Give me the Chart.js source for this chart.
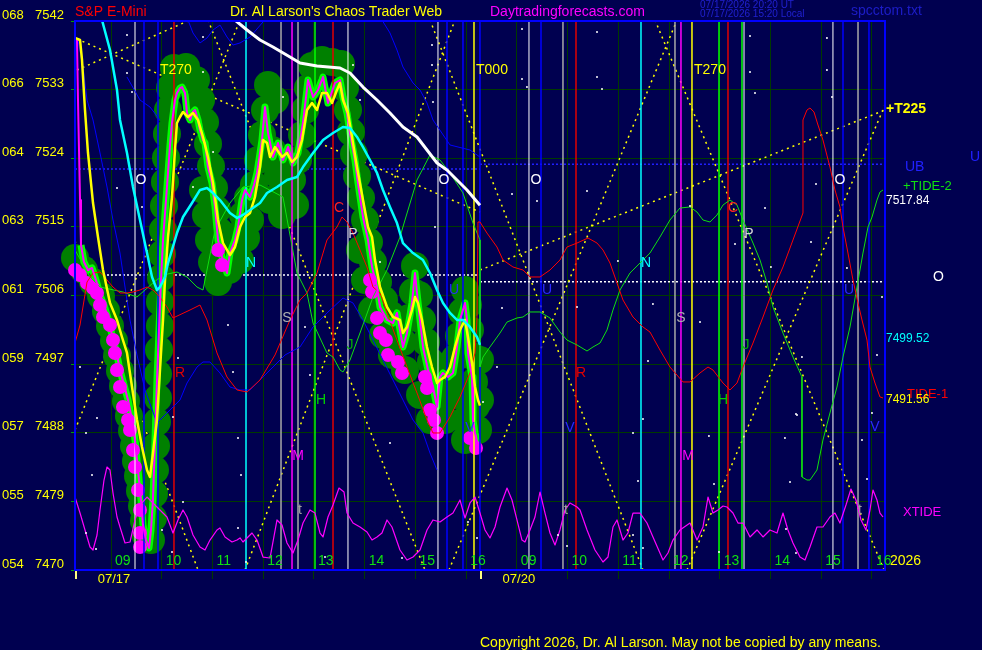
<!DOCTYPE html>
<html>
<head>
<meta charset="UTF-8">
<title>S&amp;P E-Mini - Chaos Trader Web</title>
<script src="https://cdn.jsdelivr.net/npm/chart.js"></script>
<style>
  body { margin: 0; background: #000050; }
  canvas { display: block; }
</style>
</head>
<body>
<canvas id="chart" width="982" height="650"></canvas>
<script>
// axis: time in hours (07/20 session shifted by +8h), price in points
const hourTicks = [9, 10, 11, 12, 13, 14, 15, 16, 17, 18, 19, 20, 21, 22, 23, 24];
const hourNames = ['09','10','11','12','13','14','15','16','09','10','11','12','13','14','15','16'];
const yTicks = [7470, 7479, 7488, 7497, 7506, 7515, 7524, 7533, 7542];
const yCodes = ['054','055','057','059','061','063','064','066','068'];
const dayNames = ['07/17', '07/20'];
const dayLabelTime = [9.06, 17.04];
const dayStartTime = [8.29, 16.273];

// price (magenta)
const priceTime = [8.329,8.349,8.369,8.389,8.408,8.467,8.546,8.625,8.704,8.783,
  8.862,8.941,9.019,9.098,9.177,9.256,9.335,9.414,9.473,9.532,
  9.591,9.630,9.690,9.749,9.788,9.827,9.867,9.906,9.946,9.985,
  10.025,10.084,10.123,10.163,10.202,10.261,10.300,10.360,10.399,10.458,
  10.498,10.557,10.616,10.655,10.715,10.754,10.813,10.853,10.912,10.991,
  11.050,11.109,11.188,11.286,11.345,11.444,11.503,11.582,11.641,11.740,
  11.818,11.878,11.976,12.035,12.095,12.193,12.292,12.390,12.489,12.587,
  12.686,12.784,12.883,12.982,13.080,13.179,13.277,13.415,13.514,13.573,
  13.652,13.711,13.809,13.869,13.967,14.066,14.145,14.243,14.302,14.440,
  14.558,14.637,14.696,14.755,14.834,14.933,14.992,15.032,15.091,15.150,
  15.249,15.347,15.426,15.485,15.544,15.643,15.741,15.820,15.879,15.978,
  16.017,16.037,16.116,16.135,16.175,16.234];
const priceValue = [7539.51,7531.64,7525.08,7518.52,7512.62,7510.39,7509.34,7509.61,7508.03,7506.07,
  7504.75,7503.05,7500.82,7498.85,7496.23,7494.26,7492.30,7489.67,7487.05,7483.11,
  7479.18,7475.90,7473.93,7472.89,7475.25,7479.18,7487.05,7494.92,7501.48,7508.03,
  7513.28,7518.52,7522.07,7525.74,7528.62,7531.64,7532.56,7533.21,7533.34,7532.56,
  7529.93,7529.02,7530.07,7530.33,7529.02,7527.70,7526.39,7526.00,7522.85,7520.75,
  7517.61,7513.28,7511.05,7508.95,7511.57,7513.28,7514.98,7518.52,7519.84,7518.92,
  7520.49,7522.07,7526.39,7530.72,7527.31,7524.16,7526.00,7523.77,7525.47,7523.38,
  7524.69,7528.62,7534.26,7532.03,7532.95,7534.65,7531.25,7533.87,7534.26,7532.03,
  7529.93,7527.31,7523.77,7520.75,7516.29,7513.28,7509.74,7507.11,7504.49,7502.79,
  7502.39,7503.71,7501.48,7499.25,7501.08,7505.02,7508.95,7506.33,7502.79,7499.25,
  7496.23,7494.00,7491.38,7495.31,7495.84,7495.31,7495.84,7499.25,7502.79,7505.02,
  7502.79,7498.46,7495.31,7489.67,7487.97,7486.39];

// fast average (yellow)
const fastTime = [8.290,8.389,8.428,8.487,8.546,8.645,8.743,8.842,8.980,9.118,
  9.216,9.315,9.414,9.512,9.611,9.709,9.768,9.827,9.906,9.965,
  10.025,10.064,10.123,10.202,10.261,10.300,10.360,10.419,10.517,10.616,
  10.715,10.813,10.912,11.011,11.109,11.207,11.345,11.444,11.543,11.641,
  11.740,11.838,11.937,11.996,12.075,12.134,12.233,12.371,12.469,12.568,
  12.666,12.765,12.863,12.962,13.061,13.159,13.257,13.356,13.454,13.514,
  13.573,13.671,13.750,13.849,13.967,14.066,14.145,14.204,14.302,14.440,
  14.558,14.696,14.755,14.834,14.933,14.992,15.051,15.130,15.229,15.327,
  15.426,15.485,15.584,15.682,15.781,15.879,15.978,16.037,16.116,16.175,
  16.234,16.273];
const fastValue = [7539.77,7539.51,7536.89,7530.33,7524.69,7518.13,7513.67,7509.34,7505.02,7502.79,
  7500.56,7498.46,7494.00,7489.67,7486.13,7483.11,7482.20,7485.34,7489.67,7496.23,
  7502.79,7508.03,7513.67,7518.92,7525.08,7528.62,7529.41,7530.07,7529.41,7529.93,
  7529.02,7526.79,7524.16,7520.75,7515.90,7512.88,7511.31,7512.36,7514.98,7516.29,
  7516.82,7518.92,7522.85,7526.39,7526.00,7524.16,7525.47,7524.16,7524.69,7523.51,
  7524.16,7526.39,7530.33,7531.25,7530.33,7532.56,7532.56,7531.25,7532.95,7533.87,
  7531.64,7529.93,7526.79,7522.85,7518.52,7514.98,7513.67,7510.65,7507.11,7504.49,
  7503.18,7502.79,7501.08,7501.87,7504.10,7505.80,7505.02,7502.79,7499.25,7496.62,
  7494.52,7494.92,7495.31,7496.62,7499.25,7501.48,7502.79,7500.56,7497.15,7494.00,
  7492.30,7491.56];

// medium average (cyan)
const midTime = [8.822,8.980,9.118,9.177,9.315,9.433,9.571,9.709,9.808,9.906,
  9.965,10.064,10.123,10.202,10.300,10.419,10.596,10.754,10.892,11.011,
  11.148,11.345,11.484,11.602,11.740,11.937,12.075,12.272,12.469,12.666,
  12.784,12.982,13.179,13.376,13.573,13.711,13.849,13.967,14.105,14.243,
  14.361,14.499,14.637,14.755,14.953,15.150,15.288,15.426,15.544,15.682,
  15.820,15.938,16.076,16.214,16.273];
const midValue = [7542.13,7538.20,7532.95,7529.02,7524.69,7520.23,7515.90,7511.57,7508.43,7506.72,
  7507.11,7508.43,7510.26,7511.97,7514.19,7516.29,7518.13,7519.84,7520.10,7519.44,
  7518.52,7516.82,7516.16,7516.56,7517.21,7518.13,7519.44,7520.23,7521.15,7521.54,
  7522.85,7524.69,7526.39,7527.31,7528.10,7527.97,7526.79,7525.47,7523.77,7522.07,
  7519.84,7517.61,7515.50,7512.88,7511.57,7510.65,7508.95,7506.72,7505.02,7503.71,
  7502.79,7502.79,7501.87,7500.56,7499.52];

// slow average (white)
const slowTime = [11.444,11.681,11.937,12.193,12.528,12.725,13.061,13.514,13.711,13.967,
  14.243,14.499,14.755,15.032,15.229,15.426,15.623,15.820,16.017,16.273];
const slowValue = [7542.13,7540.82,7539.51,7538.59,7537.28,7536.49,7536.10,7535.84,7535.18,7533.34,
  7531.64,7529.93,7528.10,7526.79,7525.08,7523.38,7522.46,7521.15,7519.84,7517.84];

// TIDE-1 (red)
const tide1Time = [8.290,8.389,8.527,8.645,8.783,8.921,9.039,9.177,9.315,9.433,
  9.571,9.709,9.827,9.965,10.103,10.222,10.557,10.754,10.892,11.089,
  11.286,11.484,11.681,11.937,12.233,12.528,12.725,12.863,13.061,13.257,
  13.454,13.553,13.652,13.770,13.908,14.046,14.164,14.302,14.440,14.637,
  14.834,15.032,15.229,15.347,15.485,15.682,15.879,16.076,16.175,16.214,
  16.234,16.273,16.411,16.608,16.727,16.923,17.121,17.259,17.456,17.653,
  17.850,17.988,18.186,18.402,18.580,18.698,18.836,18.974,19.092,19.289,
  19.486,19.624,19.821,20.018,20.275,20.413,20.610,20.768,20.866,21.064,
  21.201,21.339,21.458,21.655,21.852,22.049,22.246,22.443,22.640,22.640,
  22.719,22.778,22.857,22.936,23.034,23.172,23.271,23.369,23.429,23.527,
  23.626,23.725,23.803,23.902,23.961,24.060,24.158,24.218];
const tide1Value = [7499.77,7502.13,7507.77,7508.95,7509.08,7508.03,7507.11,7506.33,7506.33,7506.46,
  7506.72,7507.11,7506.72,7505.80,7504.49,7503.05,7504.10,7504.75,7502.79,7498.46,
  7495.31,7493.61,7493.34,7494.92,7498.20,7502.79,7505.41,7506.33,7508.95,7513.28,
  7514.98,7516.29,7515.64,7514.19,7511.97,7509.74,7507.11,7506.33,7503.71,7500.16,
  7496.62,7493.21,7489.67,7487.97,7487.97,7490.07,7492.69,7495.84,7498.46,7502.79,
  7515.64,7515.64,7514.19,7512.36,7510.65,7509.74,7509.34,7508.43,7508.43,7509.34,
  7510.65,7512.36,7512.88,7513.54,7512.88,7511.97,7510.26,7507.64,7505.41,7503.18,
  7501.87,7501.21,7498.85,7496.62,7494.66,7494.66,7495.84,7496.62,7496.23,7494.52,
  7493.61,7494.52,7496.62,7499.77,7503.18,7506.72,7509.74,7513.28,7516.82,7529.02,
  7530.33,7530.59,7530.07,7528.36,7526.39,7522.85,7519.84,7517.61,7514.98,7511.57,
  7508.03,7505.02,7502.79,7500.16,7496.62,7494.52,7492.69,7492.56];

// TIDE-2 (green)
const tide2Time = [8.290,8.586,8.783,9.236,9.512,9.827,10.025,10.300,10.498,10.695,
  10.813,11.050,11.345,11.602,11.937,12.390,12.528,12.666,12.863,12.982,
  13.257,13.376,13.514,13.573,13.711,13.908,14.164,14.440,14.696,14.795,
  15.032,15.288,15.485,15.682,15.938,16.135,16.273,16.273,16.333,16.470,
  16.668,16.806,17.002,17.121,17.259,17.456,17.653,17.850,17.988,18.186,
  18.383,18.501,18.639,18.777,18.895,19.033,19.230,19.427,19.624,19.821,
  20.018,20.215,20.413,20.551,20.669,20.807,20.945,21.064,21.201,21.339,
  21.458,21.655,21.793,21.931,22.049,22.246,22.443,22.620,22.620,22.719,
  22.778,22.916,23.034,23.172,23.310,23.429,23.567,23.705,23.823,23.922,
  24.001,24.099,24.158,24.218];
const tide2Value = [7511.97,7508.43,7507.11,7506.46,7505.80,7507.64,7508.69,7509.08,7508.43,7507.11,
  7506.72,7514.59,7518.13,7520.23,7520.49,7518.92,7513.93,7508.95,7506.33,7502.39,
  7498.46,7497.93,7496.23,7495.97,7497.54,7501.08,7505.80,7509.34,7513.67,7515.90,
  7521.15,7524.43,7523.77,7522.07,7519.44,7515.50,7513.28,7496.62,7497.93,7499.25,
  7501.08,7502.52,7503.05,7503.18,7503.84,7503.84,7503.05,7501.21,7500.16,7499.51,
  7498.72,7499.25,7499.77,7501.48,7504.10,7506.72,7508.95,7510.26,7511.57,7513.67,
  7515.90,7517.47,7517.61,7516.95,7515.90,7515.64,7516.56,7517.87,7518.52,7517.87,
  7515.90,7512.88,7510.65,7507.64,7504.49,7501.08,7497.93,7495.31,7482.20,7481.80,
  7481.80,7483.11,7487.05,7490.59,7494.00,7497.93,7501.87,7507.11,7511.57,7514.98,
  7516.29,7518.52,7519.57,7519.84];

// blue bands
const lowBandTime = [8.349,8.448,8.527,8.645,8.783,8.921,9.039,9.177,9.276,9.374,
  9.512,9.670,9.906,10.103,10.360,10.498,10.695,10.813,10.951,11.148,
  11.345,11.543,11.740,12.035,12.430,12.725,12.982,13.257,13.573,13.770,
  13.967,14.164,14.361,14.558,14.755,14.953,15.150,15.288,15.426];
const lowBandValue = [7539.51,7535.97,7531.64,7529.02,7524.69,7520.23,7515.90,7511.57,7507.11,7502.79,
  7498.20,7493.61,7489.28,7490.59,7492.30,7494.52,7496.62,7497.28,7497.28,7495.84,
  7494.00,7493.61,7493.61,7495.57,7498.20,7499.25,7501.87,7503.71,7505.67,7505.02,
  7502.79,7500.16,7497.54,7494.92,7492.30,7489.67,7487.97,7485.34,7483.11];
const upBandATime = [9.315, 9.571, 9.768, 9.965];
const upBandAValue = [7534.65, 7531.64, 7530.72, 7529.02];
const upBandBTime = [10.517,10.616,10.754,10.892,11.011,11.148,11.286,11.405,11.543,11.740,11.996];
const upBandBValue = [7542.13,7540.43,7539.12,7539.77,7540.82,7541.47,7539.90,7538.85,7539.12,7539.90,7541.87];
const upBandCTime = [14.341,14.499,14.637,14.755,14.953,15.091,15.229,15.347,15.682,16.076,16.273];
const upBandCValue = [7542.13,7540.43,7538.20,7535.97,7533.87,7532.95,7531.25,7529.02,7525.74,7525.08,7524.16];

// XTIDE (magenta, bottom)
const xtideTime = [8.290,8.389,8.487,8.586,8.645,8.724,8.783,8.862,8.921,8.980,
  9.039,9.118,9.177,9.276,9.374,9.473,9.571,9.709,9.827,9.965,
  10.103,10.222,10.320,10.419,10.498,10.616,10.754,10.853,10.951,11.089,
  11.148,11.247,11.385,11.484,11.543,11.602,11.700,11.779,11.878,11.996,
  12.134,12.272,12.371,12.469,12.587,12.686,12.784,12.922,13.021,13.120,
  13.179,13.277,13.376,13.494,13.593,13.652,13.770,13.908,14.046,14.145,
  14.243,14.341,14.440,14.538,14.696,14.834,14.953,15.091,15.229,15.347,
  15.485,15.623,15.741,15.879,15.978,16.076,16.175,16.273,16.372,16.470,
  16.569,16.668,16.806,16.904,17.002,17.101,17.160,17.259,17.357,17.456,
  17.555,17.653,17.752,17.850,17.949,18.047,18.186,18.245,18.383,18.540,
  18.698,18.796,18.895,18.974,19.092,19.190,19.289,19.427,19.565,19.683,
  19.881,19.979,20.077,20.215,20.413,20.551,20.669,20.768,20.866,20.965,
  21.064,21.142,21.260,21.359,21.458,21.596,21.734,21.852,21.990,22.128,
  22.246,22.344,22.443,22.581,22.680,22.778,22.916,23.034,23.172,23.271,
  23.369,23.488,23.586,23.685,23.784,23.882,23.961,24.020,24.099,24.158,
  24.218];
const xtideValue = [7479.57,7477.47,7475.25,7473.02,7472.62,7474.59,7477.87,7481.80,7483.51,7483.11,
  7480.10,7476.95,7475.64,7473.54,7473.67,7476.56,7478.52,7479.57,7478.79,7477.87,
  7476.95,7474.85,7476.56,7477.87,7476.95,7474.59,7473.02,7472.62,7473.93,7475.25,
  7475.51,7474.33,7473.67,7473.93,7474.20,7473.67,7474.33,7474.85,7473.93,7471.70,
  7471.57,7476.56,7475.90,7473.54,7472.23,7473.93,7476.16,7477.87,7477.47,7474.85,
  7474.33,7476.95,7478.52,7480.75,7480.23,7477.47,7476.16,7475.64,7474.98,7473.93,
  7474.33,7474.85,7476.56,7475.64,7472.62,7471.31,7471.70,7472.62,7475.25,7476.56,
  7476.30,7476.95,7477.47,7479.18,7476.82,7478.79,7479.57,7477.47,7475.25,7474.20,
  7475.64,7478.26,7480.75,7479.18,7476.56,7473.93,7473.67,7475.25,7476.95,7480.23,
  7477.47,7474.85,7473.28,7475.25,7477.87,7478.79,7478.26,7477.87,7475.25,7472.62,
  7471.05,7471.70,7475.64,7476.56,7473.93,7474.85,7477.47,7477.47,7476.16,7474.33,
  7471.31,7472.23,7473.93,7475.25,7476.16,7473.93,7475.64,7479.57,7477.47,7477.87,
  7478.39,7478.26,7477.47,7476.16,7476.16,7474.33,7475.25,7474.33,7475.25,7474.85,
  7477.47,7475.25,7473.54,7471.70,7471.31,7473.02,7475.64,7475.64,7476.95,7477.47,
  7476.16,7478.52,7480.62,7479.18,7476.56,7475.25,7477.87,7480.49,7479.18,7477.47,
  7476.95];

// forecast bubbles (green) and trigger dots (magenta)
const bubbleTime = [8.290,8.467,8.645,8.803,8.901,8.980,9.059,9.118,9.177,9.236,
  9.295,9.354,9.414,9.453,9.492,9.532,9.571,9.611,9.650,9.690,
  9.788,9.827,9.847,9.867,9.887,9.906,9.926,9.926,9.946,9.965,
  9.965,9.985,10.005,10.025,10.044,10.064,10.084,10.103,10.123,10.163,
  10.241,10.478,10.675,10.774,10.853,10.912,10.971,11.030,11.089,11.148,
  11.227,11.326,11.444,11.523,11.602,11.700,11.818,11.897,11.976,12.035,
  12.095,12.233,12.173,12.292,12.430,12.568,12.686,12.765,12.824,12.883,
  12.962,13.159,13.356,13.533,13.612,13.671,13.730,13.790,13.849,13.928,
  14.007,14.085,14.164,14.263,14.381,14.519,14.657,14.755,14.874,14.953,
  14.992,15.071,15.130,15.209,15.307,15.406,15.485,15.564,15.682,15.781,
  15.860,15.919,15.978,16.037,16.076,16.116,16.155,16.195,16.234,14.598,
  15.781,15.978,10.813,10.872,10.931,10.991,11.109,11.543,11.661,11.740,
  12.134,12.371,12.627,13.908,14.007,14.145,14.361,14.538,14.795,15.091,
  15.288,15.584,15.978,16.273,16.273];
const bubbleValue = [7510.92,7509.34,7507.77,7505.93,7503.97,7502.00,7500.03,7498.07,7496.10,7494.13,
  7492.16,7490.20,7488.23,7486.26,7484.29,7482.33,7480.36,7478.39,7476.42,7474.46,
  7473.93,7476.82,7479.97,7483.11,7486.26,7489.41,7492.56,7495.70,7498.85,7502.00,
  7505.15,7508.30,7511.44,7514.59,7517.74,7520.89,7524.03,7527.18,7530.33,7533.21,
  7535.84,7535.97,7534.26,7531.64,7528.75,7525.87,7522.98,7520.10,7517.21,7514.33,
  7511.44,7509.34,7511.31,7513.93,7516.56,7518.79,7520.49,7523.77,7527.05,7530.33,
  7533.61,7531.64,7525.08,7521.80,7519.84,7521.15,7523.77,7527.05,7530.33,7533.21,
  7536.10,7536.89,7536.62,7536.36,7533.21,7530.33,7527.44,7524.56,7521.67,7518.79,
  7515.90,7513.02,7510.39,7507.77,7505.41,7503.44,7502.13,7499.90,7503.05,7506.46,
  7509.87,7506.07,7502.79,7499.90,7497.28,7494.66,7492.03,7494.92,7495.44,7497.80,
  7500.69,7503.84,7506.72,7504.75,7501.48,7498.07,7494.66,7491.51,7488.36,7499.51,
  7492.95,7489.67,7519.84,7516.56,7513.28,7510.39,7507.77,7510.65,7513.54,7515.90,
  7518.52,7516.56,7517.87,7511.97,7508.03,7504.10,7500.82,7498.20,7496.23,7492.95,
  7489.67,7489.67,7487.05,7492.30,7497.54];
const dotTime = [8.290,8.389,8.527,8.645,8.724,8.783,8.842,8.980,9.039,9.078,
  9.118,9.177,9.236,9.335,9.374,9.433,9.473,9.532,9.571,9.571,
  9.571,11.109,11.188,14.105,14.145,14.243,14.302,14.420,14.460,14.657,
  14.736,15.189,15.229,15.288,15.367,15.426,16.076,16.195];
const dotValue = [7509.34,7508.69,7507.64,7506.98,7506.33,7504.75,7503.18,7502.13,7500.16,7498.46,
  7496.23,7494.00,7491.38,7489.67,7488.36,7485.74,7483.51,7480.49,7477.87,7474.85,
  7473.02,7511.97,7510.00,7508.03,7506.46,7503.05,7501.08,7500.16,7498.20,7497.28,
  7495.84,7495.31,7493.87,7490.98,7489.67,7487.97,7487.31,7486.00];

// small white markers
const starTime = [9.315,9.315,9.414,10.813,10.813,12.390,13.908,15.327,15.327,17.101,
  17.101,17.199,18.580,18.580,18.678,21.596,21.596,21.694,23.113,23.113,
  23.212,9.118,9.611,11.011,10.616,13.770,14.302,15.347,15.386,12.824,
  12.922,14.499,16.333,16.707,16.608,16.904,17.397,18.383,18.186,18.993,
  19.683,19.585,20.413,20.610,21.300,21.891,22.009,22.897,22.798,23.507,
  24.198,24.099,22.620,22.522,19.486,19.289,19.388,20.787,20.886,22.285,
  22.384,22.502,23.803,23.902,24.001,8.389,8.507,8.724,8.625,10.222,
  10.320,10.419,11.306,11.405,11.503,11.562,8.507,8.704,10.005,10.202,
  11.503,11.661,13.218,14.736,16.037,16.214,17.811,17.988,19.289,19.486,
  20.985,22.305,22.502];
const starValue = [7540.16,7535.18,7532.69,7539.90,7535.31,7532.03,7531.64,7538.85,7536.23,7540.95,
  7534.39,7533.34,7540.56,7534.65,7533.08,7540.03,7535.31,7532.56,7539.77,7535.57,
  7532.03,7520.10,7517.61,7524.82,7520.23,7536.23,7510.39,7531.38,7514.98,7501.87,
  7495.57,7486.65,7492.03,7504.36,7496.62,7519.31,7518.39,7519.70,7504.49,7510.52,
  7504.89,7497.41,7517.74,7502.52,7512.75,7517.47,7509.74,7520.62,7513.02,7509.61,
  7505.80,7498.20,7497.93,7490.33,7489.80,7487.97,7481.67,7487.57,7481.28,7487.31,
  7481.54,7490.46,7487.05,7481.93,7490.59,7496.62,7487.97,7489.93,7482.46,7490.07,
  7497.80,7478.92,7502.13,7495.97,7487.31,7482.46,7474.85,7472.75,7475.25,7472.36,
  7475.51,7471.05,7471.70,7471.57,7476.30,7474.20,7474.59,7473.15,7474.59,7472.89,
  7472.36,7475.38,7472.23];

// dotted fan lines (yellow)
const fanFromTime = [8.329, 8.329, 16.273, 8.290, 8.290, 10.912, 11.641, 15.288, 15.662, 19.723, 20.354];
const fanFromValue = [7539.64, 7535.57, 7509.34, 7488.36, 7513.15, 7542.13, 7470, 7542.13, 7470, 7542.13, 7470];
const fanToTime = [16.273, 10.557, 24.257, 11.543, 10.715, 15.189, 15.781, 19.486, 20.157, 24.237, 24.257];
const fanToValue = [7516.95, 7542.13, 7530.33, 7542.13, 7470, 7470, 7542.13, 7470, 7542.13, 7470, 7530.98];

// dotted levels per session
const levelStart = [8.29, 16.273];
const levelEnd = [16.273, 24.257];
const ubLevel = [7522.6, 7523.2];
const oLevel = [7508.7, 7507.8];

// cycle timing lines
const whiteCycle = [9.473, 13.671, 15.445, 17.239, 21.478, 23.231];
const blueCycle = [9.650, 9.926, 15.623, 15.938, 16.273, 17.476, 23.429, 23.941];
const redCycle = [10.241, 13.376, 18.166, 21.162];
const cyanCycle = [11.661, 19.447];
const grayCycle = [12.351, 12.686, 17.909, 20.117, 23.725];
const magentaCycle = [12.568, 20.235];
const greenCycle = [13.021, 20.985, 21.438];
const yellowCycle = [16.155, 20.452];

// planet letters
const planetLetters = ['O','O','O','O','N','N','S','S','C','C','P','P','R','R','H','H','M','M','J','J','U','U','U','V','V','V','t','t','t'];
const planetTime = [9.591,15.564,17.377,23.369,11.759,19.546,12.469,20.235,13.494,21.260,13.770,21.576,10.360,18.264,13.139,21.064,12.686,20.373,13.711,21.517,15.761,17.594,23.547,16.076,18.047,24.060,12.725,17.969,23.764];
const planetValue = [7521.15,7521.15,7521.15,7521.15,7510.26,7510.26,7503.05,7503.05,7517.47,7517.47,7514.06,7514.06,7495.84,7495.84,7492.30,7492.30,7484.95,7484.95,7499.51,7499.51,7506.72,7506.72,7506.72,7488.62,7488.62,7488.75,7477.87,7477.87,7477.87];
const turnNames = ['T270', 'T000', 'T270'];
const turnTime = [9.965, 16.195, 20.492];
const turnValue = [7535.57, 7535.57, 7535.57];

const yMin = yTicks[0], yMax = yTicks[yTicks.length - 1];
const F = '13px "Liberation Sans", Arial, sans-serif';
const F14 = '14px "Liberation Sans", Arial, sans-serif';
const F12 = '12px "Liberation Sans", Arial, sans-serif';
const letterColor = { O: '#ffffff', N: '#00ffff', S: '#b0b0b0', C: '#ff2020', P: '#d8d8d8', R: '#e00000',
  H: '#00d000', M: '#ff00ff', J: '#00b000', U: '#2a2aff', V: '#2a2aff', t: '#a0a0a0' };

const pts = (xs, ys) => xs.map((x, i) => ({ x: x, y: ys[i] }));
const vlines = xs => xs.flatMap(x => [{ x: x, y: yMin }, { x: x, y: yMax }, { x: x, y: null }]);
const segs = (x0, y0, x1, y1) => x0.flatMap((x, i) => [{ x: x, y: y0[i] }, { x: x1[i], y: y1[i] }, { x: x1[i], y: null }]);

function line(data, color, width, order, extra) {
  return Object.assign({ data: data, borderColor: color, borderWidth: width, pointRadius: 0,
    fill: false, tension: 0, order: order, borderJoinStyle: 'round' }, extra || {});
}
function marks(data, color, radius, order) {
  return { data: data, showLine: false, pointRadius: radius, pointBackgroundColor: color,
    pointBorderWidth: 0, order: order, clip: false };
}

const datasets = [
  marks(pts(starTime, starValue), '#ffffff', 1, 1),
  line(pts(slowTime, slowValue), '#ffffff', 3, 2),
  line(pts(midTime, midValue), '#00ffff', 2.5, 3),
  line(pts(fastTime, fastValue), '#ffff00', 2.5, 4),
  line(pts(priceTime, priceValue), '#ff00ff', 2, 5),
  line(pts(tide1Time, tide1Value), '#ff0000', 1, 6),
  line(pts(tide2Time, tide2Value), '#10e010', 1, 7),
  line(pts(lowBandTime, lowBandValue), '#0000ff', 1, 8),
  line(pts(upBandATime, upBandAValue), '#0000ff', 1, 8),
  line(pts(upBandBTime, upBandBValue), '#0000ff', 1, 8),
  line(pts(upBandCTime, upBandCValue), '#0000ff', 1, 8),
  line(pts(xtideTime, xtideValue), '#ff00ff', 1.2, 9),
  line(vlines(whiteCycle), '#ffffff', 1, 10),
  line(vlines(blueCycle), '#0000ff', 1.5, 10),
  line(vlines(redCycle), '#e00000', 1.5, 10),
  line(vlines(cyanCycle), '#00ffff', 1.5, 10),
  line(vlines(grayCycle), '#a8a8a8', 1.5, 10),
  line(vlines(magentaCycle), '#ff00ff', 1.5, 10),
  line(vlines(greenCycle), '#00ff00', 1.5, 10),
  line(vlines(yellowCycle), '#ffff00', 1.5, 10),
  marks(pts(dotTime, dotValue), '#ff00ff', 7, 18),
  line(pts(priceTime.slice(4), priceValue.slice(4)), '#00ff00', 7, 19),
  marks(pts(bubbleTime, bubbleValue), '#008000', 14, 20),
  line(segs(fanFromTime, fanFromValue, fanToTime, fanToValue), '#ffff00', 1.5, 21, { borderDash: [2, 4] }),
  line(segs(levelStart, ubLevel, levelEnd, ubLevel), '#2020ff', 1.5, 22, { borderDash: [2, 2] }),
  line(segs(levelStart, oLevel, levelEnd, oLevel), '#ffffff', 1.5, 22, { borderDash: [2, 2] })
];

const overlay = {
  id: 'overlay',
  beforeDraw(chart) {
    const c = chart.ctx;
    c.save();
    c.fillStyle = '#000050';
    c.fillRect(0, 0, chart.width, chart.height);
    c.restore();
  },
  afterDraw(chart) {
    const c = chart.ctx, a = chart.chartArea, xs = chart.scales.x, ys = chart.scales.y;
    const txt = (s, x, y, color, font, align) => {
      c.font = font || F; c.fillStyle = color; c.textAlign = align || 'left';
      c.textBaseline = 'middle'; c.fillText(s, x, y);
    };
    const py = v => ys.getPixelForValue(v);
    c.save();
    // frame
    c.strokeStyle = '#0000ff';
    c.lineWidth = 2;
    c.strokeRect(a.left, a.top, a.right - a.left, a.bottom - a.top);

    // price scale
    yTicks.forEach((v, i) => {
      txt(yCodes[i], 2, py(v) - 6, '#ffff00');
      txt(String(v), 35, py(v) - 6, '#ffff00');
    });
    // hours
    hourTicks.forEach((h, i) => txt(hourNames[i], xs.getPixelForValue(h) + 4, a.bottom - 9, '#10e010', F14));
    // sessions
    dayNames.forEach((d, i) => txt(d, xs.getPixelForValue(dayLabelTime[i]), a.bottom + 9, '#ffff00', F, 'center'));
    c.fillStyle = '#ffff80';
    dayStartTime.forEach(t => c.fillRect(Math.round(xs.getPixelForValue(t)), a.bottom + 1, 2, 8));

    // letters and turn marks
    planetLetters.forEach((l, i) => txt(l, xs.getPixelForValue(planetTime[i]), py(planetValue[i]), letterColor[l], F14, 'center'));
    turnNames.forEach((s, i) => txt(s, xs.getPixelForValue(turnTime[i]), py(turnValue[i]), '#ffff00', F14));

    // header
    txt('S&P E-Mini', 75, 12, '#ff0000', F14);
    txt("Dr. Al Larson's Chaos Trader Web", 230, 12, '#ffff00', F14);
    txt('Daytradingforecasts.com', 490, 12, '#ff00ff', F14);
    txt('07/17/2026 20:20 UT', 700, 5, '#2020d0', '10px "Liberation Sans", Arial, sans-serif');
    txt('07/17/2026 15:20 Local', 700, 14, '#2020d0', '10px "Liberation Sans", Arial, sans-serif');
    txt('spcctom.txt', 851, 11, '#1c1cc8', F14);

    // right side notes
    const r = a.right;
    txt('+T225', r + 1, py(fanToValue[2]) - 1, '#ffff00', 'bold 14px "Liberation Sans", Arial, sans-serif');
    txt('UB', r + 20, py(ubLevel[1]) + 3, '#2020ff', F14);
    txt('U', r + 85, py(ubLevel[1]) - 7, '#2020ff', F14);
    txt('+TIDE-2', r + 18, py(tide2Value[tide2Value.length - 1]) - 4, '#10e010');
    txt(slowValue[slowValue.length - 1].toFixed(2), r + 1, py(slowValue[slowValue.length - 1]) - 5, '#ffffff', F12);
    txt('O', r + 48, py(oLevel[1]) - 5, '#ffffff', F14);
    txt(midValue[midValue.length - 1].toFixed(2), r + 1, py(midValue[midValue.length - 1]) - 6, '#00ffff', F12);
    txt('TIDE-1', r + 22, py(tide1Value[tide1Value.length - 1]) - 4, '#ff0000');
    txt(fastValue[fastValue.length - 1].toFixed(2), r + 1, py(fastValue[fastValue.length - 1]) - 6, '#ffff00', F12);
    txt('XTIDE', r + 18, py(xtideValue[xtideValue.length - 1]) - 5, '#ff00ff');
    txt('2026', r + 5, a.bottom - 9, '#ffff00', F14);

    txt('Copyright 2026, Dr. Al Larson. May not be copied by any means.', 480, 643, '#ffff00', F14);
    c.restore();
  }
};

new Chart(document.getElementById('chart'), {
  type: 'line',
  data: { datasets: datasets },
  options: {
    responsive: false,
    animation: false,
    devicePixelRatio: 1,
    events: [],
    layout: { padding: { left: 0, right: 97, top: 21, bottom: 0 } },
    plugins: { legend: { display: false }, tooltip: { enabled: false } },
    scales: {
      x: {
        type: 'linear', min: 8.29, max: 24.257,
        afterBuildTicks: s => { s.ticks = hourTicks.map(v => ({ value: v })); },
        afterFit: s => { s.height = 80; },
        ticks: { display: false },
        grid: { color: '#003a00', tickColor: '#003a00', tickLength: 9 },
        border: { display: false }
      },
      y: {
        min: yMin, max: yMax,
        afterBuildTicks: s => { s.ticks = yTicks.map(v => ({ value: v })); },
        afterFit: s => { s.width = 75; },
        ticks: { display: false },
        grid: { color: '#003a00', tickColor: '#00a000', tickLength: 4 },
        border: { display: false }
      }
    }
  },
  plugins: [overlay]
});
</script>
</body>
</html>
